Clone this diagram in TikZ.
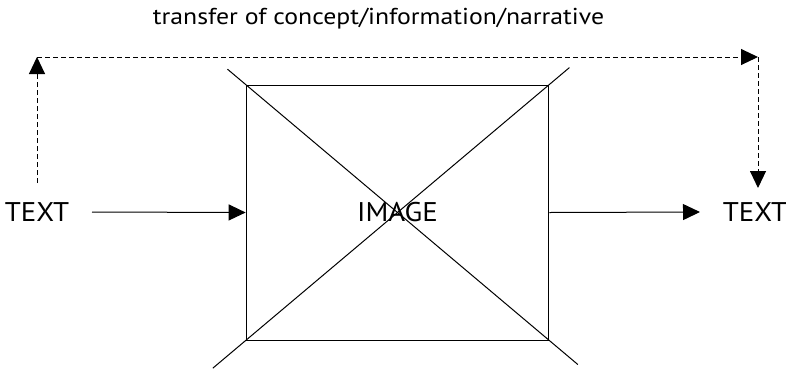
\documentclass[tikz,border=0pt]{standalone}
\usepackage{fontspec}
\setmainfont{PT Sans}
\newfontfamily\ttlfont[FakeStretch=1.12]{PT Sans}
\newfontfamily\lblfont[FakeStretch=1.07]{PT Sans}
\usetikzlibrary{arrows.meta,calc}
\tikzset{
  lbl/.style={inner sep=0pt, font=\lblfont\fontsize{27}{30}\selectfont},
  ttl/.style={inner sep=0pt, font=\ttlfont\fontsize{23}{26}\selectfont},
  arr/.style={line width=1pt, -{Triangle[length=17pt,width=16pt]}},
  darr/.style={arr, dash pattern=on 5pt off 3pt},
  thin line/.style={line width=1pt},
}
\begin{document}
\begin{tikzpicture}[x=1pt,y=-1pt]
\useasboundingbox (0,0) rectangle (786,370);
\node[ttl, anchor=base] (title) at (378.5,24) {transfer of concept/information/narrative};
\node[draw, thin line, minimum width=302.7pt, minimum height=255pt, inner sep=0pt] (img) at (397.5,212.5) {};
\node[lbl] (image) at (397.5,212) {IMAGE};
\node[lbl] (tl) at (37,212) {TEXT};
\node[lbl] (tr) at (755,212) {TEXT};
\draw[thin line] ($(img.north west)!-0.06!(img.south east)$) -- ($(img.south east)!-0.094!(img.north west)$);
\draw[thin line] ($(img.north east)!-0.066!(img.south west)$) -- ($(img.south west)!-0.108!(img.north east)$);
\coordinate (a0) at (92,212);
\draw[arr] (a0) -- (img.west);
\coordinate (b1) at (700,212);
\draw[arr] (img.east) -- (b1);
\coordinate (d0) at (37,183);
\coordinate (d1) at (37,57);
\coordinate (d2) at (758,57);
\coordinate (d3) at (758,188);
\draw[darr] (d0) -- (d1);
\draw[darr] (d1) -- (d2);
\draw[darr] (d2) -- (d3);
\end{tikzpicture}
\end{document}
